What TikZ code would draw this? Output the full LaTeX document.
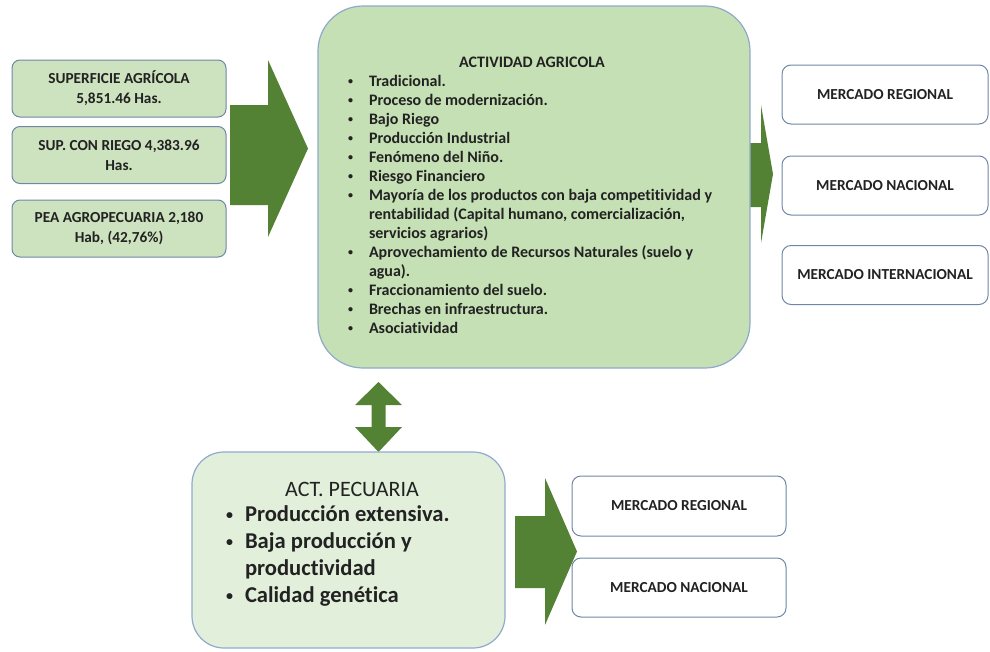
\documentclass[tikz,border=0pt]{standalone}
\usepackage{fontspec}
\setmainfont{Carlito}[Ligatures=NoCommon]
\usepackage{array}
\newcommand\smalldot{\raisebox{1.9pt}{\fontsize{10}{10}\selectfont •}}
\newcommand\bigdot{\raisebox{2.8pt}{\fontsize{14}{14}\selectfont •}}
\begin{document}
\definecolor{arrowgreen}{HTML}{548235}
\definecolor{agrofill}{HTML}{C5E0B4}
\definecolor{infofill}{HTML}{CDE2BF}
\definecolor{pecfill}{HTML}{E2EFDA}
\definecolor{edgeblue}{HTML}{8FAACC}
\definecolor{edgedark}{HTML}{6F87A6}
\definecolor{ink}{HTML}{222222}
\begin{tikzpicture}[x=1pt,y=-1pt,
  every node/.style={inner sep=0pt,outer sep=0pt,text=ink},
  infobox/.style={draw=edgedark,line width=1pt,fill=infofill,rounded corners=8pt,
    minimum width=214pt,minimum height=57pt,align=center,
    font=\bfseries\fontsize{15.3}{20}\selectfont},
  bigbox/.style={draw=edgeblue,line width=1.2pt,fill=agrofill,rounded corners=45pt,
    minimum width=432pt,minimum height=362pt},
  pecbox/.style={draw=edgeblue,line width=1.2pt,fill=pecfill,rounded corners=32pt,
    minimum width=313pt,minimum height=196pt},
  marketbox/.style={draw=edgedark,line width=1pt,fill=white,rounded corners=9pt,
    minimum width=206pt,minimum height=59pt,
    font=\bfseries\fontsize{15.3}{18}\selectfont},
  blockarrow/.style={fill=arrowgreen,draw=none}]

\useasboundingbox (0,0) rectangle (990,651);

% input data boxes
\node[infobox] (sup)  at (119,88.5)  {SUPERFICIE AGRÍCOLA\\5,851.46 Has.};
\node[infobox] (riego) at (119,155)  {SUP. CON RIEGO 4,383.96\\Has.};
\node[infobox] (pea)  at (119,228.5) {PEA AGROPECUARIA 2,180\\Hab, (42,76\%)};

% arrow into the agricultural activity box
\fill[blockarrow] (230,105) -- (268,105) -- (268,60) -- (308,148.5) -- (268,237)
  -- (268,205) -- (230,205) -- cycle;

% arrow towards the markets (drawn first so the box covers its root)
\fill[blockarrow] (745,143) -- (761,143) -- (761,105) -- (773,174) -- (761,243)
  -- (761,207) -- (745,207) -- cycle;

% agricultural activity
\node[bigbox] (agro) at (534,187) {};
\node[anchor=base,font=\bfseries\fontsize{16}{19}\selectfont] (agrotitle) at (532,67.5)
  {ACTIVIDAD AGRICOLA};
\node[anchor=north west,align=left,font=\bfseries\fontsize{16}{19}\selectfont]
  (agrolist) at (348,73) {%
  \begin{tabular}{@{}p{21pt}@{}l@{}}
  \smalldot & Tradicional.\\
  \smalldot & Proceso de modernización.\\
  \smalldot & Bajo Riego\\
  \smalldot & Producción Industrial\\
  \smalldot & Fenómeno del Niño.\\
  \smalldot & Riesgo Financiero\\
  \smalldot & Mayoría de los productos con baja competitividad y\\
    & rentabilidad (Capital humano, comercialización,\\
    & servicios agrarios)\\
  \smalldot & Aprovechamiento de Recursos Naturales (suelo y\\
    & agua).\\
  \smalldot & Fraccionamiento del suelo.\\
  \smalldot & Brechas en infraestructura.\\
  \smalldot & Asociatividad
  \end{tabular}};

% markets of the agricultural activity
\node[marketbox] (regA) at (885,94.5) {MERCADO REGIONAL};
\node[marketbox] (nacA) at (885,185.5) {MERCADO NACIONAL};
\node[marketbox] (intA) at (885,275) {MERCADO INTERNACIONAL};

% two-way link between both activities
\fill[blockarrow] (378.5,382) -- (402,405) -- (385.5,405) -- (385.5,427) -- (402,427)
  -- (378.5,452) -- (355,427) -- (371.5,427) -- (371.5,405) -- (355,405) -- cycle;

% livestock activity
\node[pecbox] (pec) at (348.5,550) {};
\node[anchor=base,font=\fontsize{22}{26}\selectfont] (pectitle) at (352,496)
  {ACT. PECUARIA};
\node[anchor=north west,align=left,font=\bfseries\fontsize{22.6}{27}\selectfont]
  (peclist) at (226,503) {%
  \begin{tabular}{@{}p{19pt}@{}l@{}}
  \bigdot & Producción extensiva.\\
  \bigdot & Baja producción y\\
    & productividad\\
  \bigdot & Calidad genética
  \end{tabular}};

% arrow towards the livestock markets
\fill[blockarrow] (515,516) -- (545,516) -- (545,478) -- (577,551.5) -- (545,625)
  -- (545,588) -- (515,588) -- cycle;

\node[marketbox,minimum width=214pt,minimum height=60pt] (regB) at (679,506) {MERCADO REGIONAL};
\node[marketbox,minimum width=214pt,minimum height=59pt] (nacB) at (679,587.5) {MERCADO NACIONAL};
\end{tikzpicture}
\end{document}
